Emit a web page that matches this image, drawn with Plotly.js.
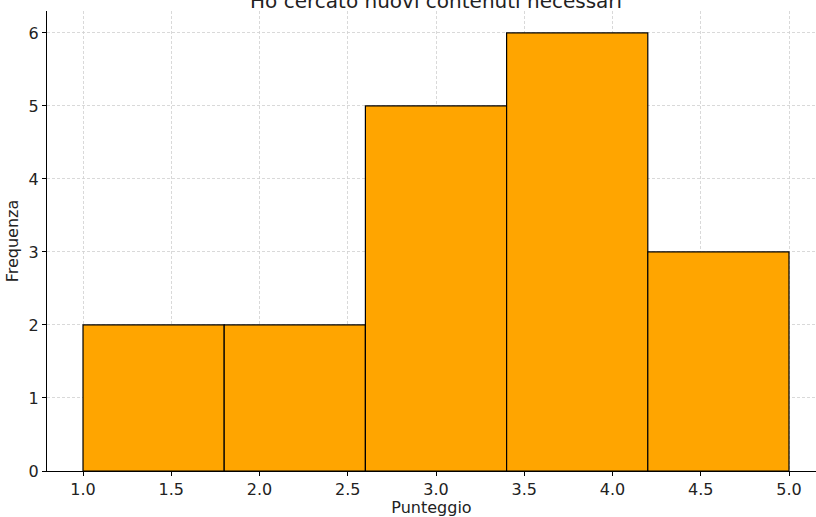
<!DOCTYPE html>
<html><head><meta charset="utf-8">
<script src="https://cdn.plot.ly/plotly-3.0.1.min.js"></script>
<style>html,body{margin:0;padding:0;background:#fff}#chart{width:816px;height:517px}</style>
</head><body><div id="chart"></div>
<script>
const binEdges = [1.0, 1.8, 2.6, 3.4, 4.2, 5.0];
const counts = [2, 2, 5, 6, 3];
const xTicks = [1.0, 1.5, 2.0, 2.5, 3.0, 3.5, 4.0, 4.5, 5.0];
const yTicks = [0, 1, 2, 3, 4, 5, 6];
const titleText = "Ho cercato nuovi contenuti necessari";
const xLabel = "Punteggio";
const yLabel = "Frequenza";

const centers = counts.map((c, i) => (binEdges[i] + binEdges[i + 1]) / 2);
const widths = counts.map((c, i) => binEdges[i + 1] - binEdges[i]);

const font = "DejaVu Sans, sans-serif";
Plotly.newPlot("chart", [{
  type: "bar", x: centers, y: counts, width: widths,
  marker: {color: "#FFA500", line: {color: "#000", width: 1.2}},
  hoverinfo: "skip"
}], {
  width: 816, height: 517,
  margin: {l: 47, r: 0, t: 11, b: 46},
  paper_bgcolor: "#fff", plot_bgcolor: "#fff",
  showlegend: false,
  font: {family: font, size: 16, color: "#222"},
  title: {text: titleText, font: {family: font, size: 20, color: "#222"},
          x: 0.506, xanchor: "center", xref: "paper", yref: "paper", y: 1, yanchor: "bottom", pad: {b: 3}},
  xaxis: {range: [0.796, 5.153], tickvals: xTicks, ticktext: xTicks.map(v => v.toFixed(1)),
          showline: true, linecolor: "#000", linewidth: 1.2, ticks: "outside", ticklen: 4, tickcolor: "#000",
          tickfont: {size: 16},
          showgrid: true, gridcolor: "#cfcfcf", griddash: "3px,2px", gridwidth: 0.8, zeroline: false,
          layer: "above traces",
          title: {text: xLabel, font: {size: 16}, standoff: 10}},
  yaxis: {range: [0, 6.3], tickvals: yTicks,
          showline: true, linecolor: "#000", linewidth: 1.2, ticks: "outside", ticklen: 4, tickcolor: "#000",
          tickfont: {size: 16},
          showgrid: true, gridcolor: "#cfcfcf", griddash: "3px,2px", gridwidth: 0.8, zeroline: false,
          layer: "above traces",
          title: {text: yLabel, font: {size: 16}, standoff: 5}}
}, {displayModeBar: false, staticPlot: true});
</script></body></html>
